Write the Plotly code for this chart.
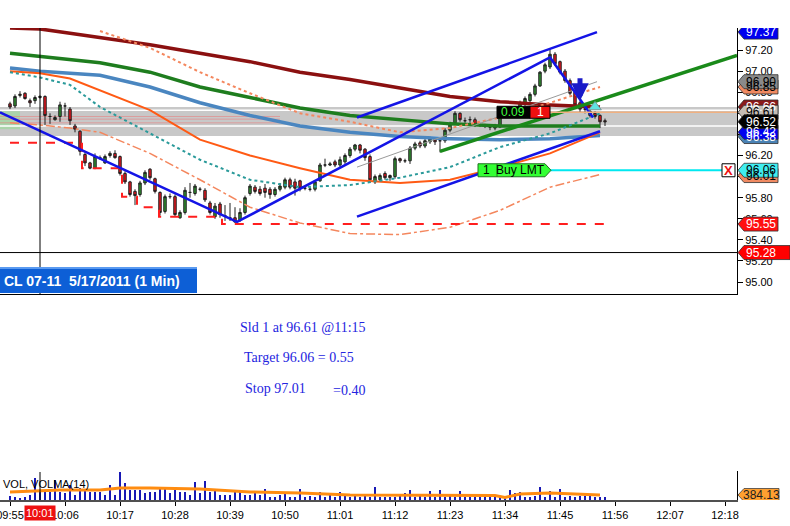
import pandas as pd
import plotly.graph_objects as go

W, H = 790, 526


def px(x):
    return x / W


def py(y):
    return 1 - y / H


# ---- data (CL 07-11, 1 min bars from 09:55) ----
bar_start = "2011-05-17 09:55"
opens = [96.69, 96.67, 96.77, 96.79, 96.72, 96.72, 96.75, 96.76, 96.57, 96.54,
         96.57, 96.67, 96.64, 96.48, 96.43, 96.21, 96.13, 96.08, 96.18, 96.13,
         96.20, 96.22, 96.19, 96.03, 95.95, 95.86, 95.83, 95.94, 96.07, 95.98,
         95.85, 95.67, 95.81, 95.81, 95.61, 95.66, 95.85, 95.84, 95.88, 95.87,
         95.75, 95.62, 95.74, 95.63, 95.61, 95.61, 95.59, 95.66, 95.84, 95.90,
         95.88, 95.89, 95.88, 95.83, 95.88, 95.90, 95.97, 95.95, 95.96, 95.89,
         95.88, 95.88, 95.96, 96.11, 96.11, 96.14, 96.11, 96.14, 96.20, 96.26,
         96.30, 96.26, 96.19, 95.95, 95.97, 96.03, 95.99, 96.00, 96.17, 96.15,
         96.15, 96.27, 96.32, 96.29, 96.33, 96.36, 96.34, 96.34, 96.44, 96.51,
         96.60, 96.53, 96.54, 96.54, 96.49, 96.49, 96.47, 96.46, 96.47, 96.62,
         96.64, 96.61, 96.65, 96.69, 96.72, 96.78, 96.86, 97.00, 97.04, 97.16,
         97.09, 97.00, 96.91, 96.80, 96.70, 96.64, 96.58, 96.60, 96.58, 96.53]
highs = [96.71, 96.78, 96.81, 96.80, 96.74, 96.77, 96.77, 96.77, 96.60, 96.58,
         96.71, 96.70, 96.66, 96.50, 96.44, 96.23, 96.14, 96.22, 96.20, 96.21,
         96.24, 96.25, 96.20, 96.05, 95.96, 95.88, 95.96, 96.06, 96.08, 95.99,
         95.86, 95.83, 95.84, 95.83, 95.68, 95.90, 95.94, 95.93, 95.90, 95.89,
         95.77, 95.75, 95.76, 95.73, 95.75, 95.71, 95.70, 95.82, 95.93, 95.92,
         95.91, 95.93, 95.90, 95.90, 95.94, 95.99, 95.99, 95.98, 95.97, 95.91,
         95.90, 95.96, 96.13, 96.17, 96.14, 96.16, 96.19, 96.22, 96.28, 96.31,
         96.31, 96.27, 96.21, 96.02, 96.03, 96.05, 96.02, 96.19, 96.18, 96.17,
         96.29, 96.33, 96.34, 96.36, 96.38, 96.37, 96.36, 96.46, 96.52, 96.62,
         96.61, 96.56, 96.57, 96.56, 96.51, 96.50, 96.49, 96.50, 96.64, 96.66,
         96.66, 96.67, 96.72, 96.76, 96.80, 96.88, 97.00, 97.08, 97.21, 97.18,
         97.10, 97.02, 96.93, 96.82, 96.72, 96.66, 96.64, 96.62, 96.59, 96.55]
lows = [96.64, 96.65, 96.75, 96.73, 96.66, 96.69, 96.74, 96.49, 96.50, 96.53,
        96.52, 96.57, 96.49, 96.42, 96.20, 96.10, 96.07, 96.07, 96.16, 96.12,
        96.18, 96.17, 96.01, 95.93, 95.81, 95.73, 95.81, 95.92, 95.97, 95.84,
        95.63, 95.65, 95.79, 95.62, 95.60, 95.64, 95.80, 95.82, 95.86, 95.76,
        95.64, 95.60, 95.61, 95.58, 95.58, 95.56, 95.57, 95.64, 95.82, 95.84,
        95.82, 95.80, 95.79, 95.81, 95.86, 95.88, 95.88, 95.82, 95.86, 95.87,
        95.86, 95.86, 95.95, 96.09, 96.10, 96.09, 96.09, 96.12, 96.18, 96.24,
        96.22, 96.15, 95.94, 95.93, 95.95, 95.97, 95.96, 95.98, 96.13, 96.13,
        96.12, 96.25, 96.27, 96.27, 96.31, 96.30, 96.23, 96.32, 96.42, 96.49,
        96.52, 96.51, 96.51, 96.47, 96.47, 96.46, 96.44, 96.44, 96.46, 96.60,
        96.59, 96.59, 96.63, 96.67, 96.70, 96.76, 96.85, 96.98, 97.02, 97.05,
        96.97, 96.89, 96.77, 96.66, 96.61, 96.60, 96.56, 96.55, 96.46, 96.48]
closes = [96.66, 96.76, 96.78, 96.74, 96.70, 96.75, 96.76, 96.58, 96.57, 96.56,
          96.68, 96.67, 96.53, 96.45, 96.24, 96.13, 96.08, 96.19, 96.18, 96.19,
          96.22, 96.18, 96.03, 95.95, 95.83, 95.82, 95.94, 96.04, 95.99, 95.86,
          95.66, 95.81, 95.81, 95.64, 95.66, 95.87, 95.85, 95.91, 95.88, 95.78,
          95.66, 95.72, 95.64, 95.63, 95.61, 95.57, 95.66, 95.80, 95.91, 95.86,
          95.84, 95.85, 95.83, 95.88, 95.91, 95.97, 95.90, 95.89, 95.89, 95.89,
          95.88, 95.95, 96.11, 96.11, 96.12, 96.11, 96.16, 96.20, 96.26, 96.30,
          96.25, 96.18, 95.97, 96.00, 96.01, 95.99, 96.01, 96.17, 96.15, 96.15,
          96.27, 96.31, 96.29, 96.34, 96.36, 96.33, 96.34, 96.44, 96.50, 96.60,
          96.54, 96.53, 96.54, 96.49, 96.49, 96.49, 96.47, 96.48, 96.62, 96.64,
          96.61, 96.65, 96.70, 96.74, 96.78, 96.86, 96.99, 97.06, 97.16, 97.07,
          96.99, 96.91, 96.79, 96.68, 96.64, 96.64, 96.62, 96.57, 96.52, 96.52]
volumes = [310, 230, 150, 230, 385, 1695, 690, 770, 615, 1540,
           615, 540, 1155, 385, 925, 770, 615, 615, 615, 385,
           1155, 385, 2155, 1310, 770, 770, 770, 540, 615, 615,
           1000, 1000, 540, 925, 615, 615, 385, 1385, 540, 1465,
           615, 770, 385, 385, 385, 615, 615, 385, 385, 540,
           385, 845, 230, 230, 385, 615, 230, 230, 845, 230,
           310, 230, 615, 230, 540, 230, 615, 310, 230, 310,
           230, 310, 230, 1000, 230, 230, 230, 230, 310, 540,
           770, 230, 310, 230, 690, 230, 770, 230, 310, 230,
           690, 230, 230, 230, 230, 230, 230, 230, 230, 230,
           770, 540, 615, 230, 230, 310, 1000, 230, 690, 230,
           845, 230, 310, 230, 310, 310, 310, 230, 230, 230]

volma_times = ["09:55", "10:05", "10:13", "10:17", "10:23", "10:33", "10:43", "10:53",
               "11:03", "11:13", "11:23", "11:32", "11:34", "11:37", "11:43", "11:53"]
volma = [615, 770, 770, 925, 925, 845, 615, 540, 385, 385, 385, 350, 200, 460, 540, 384.13]

# moving averages / bands sampled along the chart
ma_times = ["09:55", "10:01", "10:07", "10:13", "10:23", "10:33", "10:43",
            "10:53", "11:03", "11:13", "11:23", "11:33", "11:43", "11:53"]
ma_maroon = [97.41, 97.40, 97.36, 97.32, 97.25, 97.17, 97.09, 96.99, 96.92, 96.84, 96.76, 96.71, 96.68, 96.66]
ma_green = [97.17, 97.14, 97.11, 97.08, 96.99, 96.85, 96.75, 96.65, 96.58, 96.54, 96.50, 96.48, 96.48, 96.48]
ma_steel = [97.03, 97.00, 96.98, 96.96, 96.85, 96.70, 96.58, 96.48, 96.42, 96.38, 96.36, 96.35, 96.36, 96.39]
ma_orange = [97.00, 96.98, 96.93, 96.82, 96.63, 96.35, 96.20, 96.08, 95.97, 95.94, 95.97, 96.09, 96.22, 96.42]
ma_teal = [96.99, 96.94, 96.87, 96.66, 96.41, 96.16, 95.97, 95.90, 95.92, 95.99, 96.09, 96.28, 96.41, 96.60]
band_upper = [None, None, None, 97.38, 97.22, 96.99, 96.79, 96.60, 96.52, 96.42, 96.46, 96.56, 96.70, 96.85]
band_lower = [96.51, 96.49, 96.46, 96.42, 96.22, 95.97, 95.71, 95.56, 95.46, 95.45, 95.52, 95.68, 95.90, 96.02]

# drawn trend lines
zigzag_times = ["09:53:00", "10:40:24", "11:43:00", "11:51:36"]
zigzag_prices = [96.61, 95.57, 97.13, 96.56]
chan_up_times = ["11:04:24", "11:52:24"]
chan_up_prices = [96.56, 97.37]
chan_lo_times = ["11:04:24", "11:53:00"]
chan_lo_prices = [95.62, 96.43]
green_tl_times = ["11:21:00", "12:20:24"]
green_tl_prices = [96.24, 97.15]
reg_times = ["11:04:24", "11:52:24"]
reg_prices = [96.09, 96.90]
stop_times = ["09:55:00", "10:09:24", "10:17:24", "10:20:24", "10:24:48", "10:37:24", "11:55:00"]
stop_prices = [96.32, 96.08, 95.81, 95.71, 95.62, 95.55, 95.55]

price_ticks = [95.00, 95.20, 95.40, 95.60, 95.80, 96.00, 96.20, 96.40, 96.60, 96.80, 97.00, 97.20]
time_ticks = ["09:55", "10:06", "10:17", "10:28", "10:39", "10:50", "11:01",
              "11:12", "11:23", "11:34", "11:45", "11:56", "12:07", "12:18"]

# price tags on the right scale: value, fill, text colour
tag_prices = [97.37, 96.85, 96.90, 96.66, 96.61, 96.38, 96.42, 96.52, 96.01, 96.06, 95.55, 95.28]
tag_fills = ["#0000f0", "#f08a62", "#8a8a8a", "#8b1a1a", "#c4bcb4", "#4a82b4",
             "#0000f0", "#000000", "#f08a62", "#40eef0", "#ff1010", "#ff0000"]
tag_fonts = ["white", "black", "black", "white", "black", "white",
             "white", "white", "black", "black", "white", "white"]

entry_price, target_price, cross_price = 96.61, 96.06, 95.28
cross_time = "10:01"

day = "2011-05-17 "
times = pd.date_range(bar_start, periods=len(opens), freq="1min")
x_range = [day + "09:53:00", day + "12:20:24"]
P_LO, P_HI = 94.887, 97.409
dp = (P_HI - P_LO) / (294 - 28)
V_HI = 2230
dv = V_HI / (500 - 471)


def d(ts):
    return [day + t for t in ts]


def note(x, y, text, xref="paper", yref="paper", **kw):
    a = dict(xref=xref, yref=yref, x=x, y=y, text=text, showarrow=False,
             xanchor="center", yanchor="middle")
    a.update(kw)
    return a


fig = go.Figure()

# shaded zone
shapes = [
    dict(type="rect", xref="paper", yref="y", x0=0, x1=px(737), y0=96.385, y1=96.66,
         fillcolor="#c8c8c8", line=dict(width=0), layer="below"),
    dict(type="rect", xref="paper", yref="y", x0=0, x1=px(20), y0=96.45, y1=96.62,
         fillcolor="rgba(150,220,150,0.6)", line=dict(width=0), layer="below"),
]
for lvl in [96.63, 96.48]:
    shapes.append(dict(type="line", xref="paper", yref="y", x0=0, x1=px(737), y0=lvl, y1=lvl,
                       line=dict(color="white", width=1.5), layer="below"))
for lvl in [96.57, 96.545, 96.51]:
    shapes.append(dict(type="line", xref="paper", yref="y", x0=0, x1=px(280), y0=lvl, y1=lvl,
                       line=dict(color="rgba(235,120,120,0.55)", width=1), layer="below"))

fig.add_trace(go.Scatter(x=d(ma_times), y=ma_maroon, mode="lines", line=dict(color="#8b1010", width=3.5)))
fig.add_trace(go.Scatter(x=d(ma_times), y=ma_green, mode="lines", line=dict(color="#1e7d1e", width=3.5)))
fig.add_trace(go.Scatter(x=d(ma_times), y=ma_steel, mode="lines", line=dict(color="#4a86c0", width=3.5)))
fig.add_trace(go.Scatter(x=d(ma_times), y=ma_orange, mode="lines", line=dict(color="#ff5a14", width=2)))
fig.add_trace(go.Scatter(x=d(ma_times), y=ma_teal, mode="lines", line=dict(color="#2a9a9a", width=2, dash="dot")))
fig.add_trace(go.Scatter(x=d(ma_times), y=band_upper, mode="lines", line=dict(color="#f4875e", width=2, dash="dot")))
fig.add_trace(go.Scatter(x=d(ma_times), y=band_lower, mode="lines", line=dict(color="#f4875e", width=1.5, dash="dashdot")))

fig.add_trace(go.Scatter(x=d(stop_times), y=stop_prices, mode="lines", line_shape="hv",
                         line=dict(color="#ff1e1e", width=2, dash="dash")))

fig.add_trace(go.Candlestick(
    x=times, open=opens, high=highs, low=lows, close=closes,
    increasing=dict(line=dict(color="#202020", width=1), fillcolor="#2f8f2f"),
    decreasing=dict(line=dict(color="#202020", width=1), fillcolor="#e8141c"),
    whiskerwidth=0))

fig.add_trace(go.Scatter(x=d(reg_times), y=reg_prices, mode="lines", line=dict(color="#9a9a9a", width=1)))
fig.add_trace(go.Scatter(x=d(zigzag_times), y=zigzag_prices, mode="lines", line=dict(color="#1414e6", width=2.5)))
fig.add_trace(go.Scatter(x=d(chan_up_times), y=chan_up_prices, mode="lines", line=dict(color="#1414e6", width=2.5)))
fig.add_trace(go.Scatter(x=d(chan_lo_times), y=chan_lo_prices, mode="lines", line=dict(color="#1414e6", width=2.5)))
fig.add_trace(go.Scatter(x=d(green_tl_times), y=green_tl_prices, mode="lines", line=dict(color="#1a8a1a", width=3.5)))

# execution marker
fig.add_trace(go.Scatter(x=[day + "11:52"], y=[96.66], mode="markers",
                         marker=dict(symbol="triangle-up", size=11, color="#5fe3e3",
                                     line=dict(color="#7a9a9a", width=1))))

# volume
fig.add_trace(go.Bar(x=times, y=volumes, xaxis="x2", yaxis="y2", marker=dict(color="#1818b4", line=dict(width=0)),
                     width=24000))
fig.add_trace(go.Scatter(x=d(volma_times), y=volma, xaxis="x2", yaxis="y2", mode="lines",
                         line=dict(color="#ff8c10", width=3)))

# horizontal level lines
shapes += [
    dict(type="line", xref="paper", yref="y", x0=px(550), x1=px(737), y0=entry_price, y1=entry_price,
         line=dict(color="#f0b080", width=1.5)),
    dict(type="line", xref="paper", yref="y", x0=px(550), x1=px(722), y0=target_price, y1=target_price,
         line=dict(color="#00e8f0", width=2)),
    dict(type="line", xref="paper", yref="y", x0=0, x1=px(737), y0=cross_price, y1=cross_price,
         line=dict(color="black", width=1)),
    dict(type="line", xref="x", yref="paper", x0=day + cross_time, x1=day + cross_time, y0=py(294), y1=py(28),
         line=dict(color="black", width=1)),
    dict(type="line", xref="x", yref="paper", x0=day + cross_time, x1=day + cross_time, y0=py(500), y1=py(472),
         line=dict(color="black", width=1)),
]

annotations = []

# right scale tags
for p, fc, tc in zip(tag_prices, tag_fills, tag_fonts):
    h = 7 * dp
    x1 = 790 if p == cross_price else 778
    path = (f"M {px(738)},{p} L {px(744)},{p + h} L {px(x1)},{p + h} "
            f"L {px(x1)},{p - h} L {px(744)},{p - h} Z")
    shapes.append(dict(type="path", xref="paper", yref="y", path=path, fillcolor=fc,
                       line=dict(color="#303030", width=0.8)))
    annotations.append(note(px(761), p, f"{p:.2f}", yref="y",
                            font=dict(family="Liberation Sans", size=12, color=tc)))

# volume MA tag
vm = volma[-1]
hv = 6.5 * dv
path = (f"M {px(738)},{vm} L {px(744)},{vm + hv} L {px(779)},{vm + hv} "
        f"L {px(779)},{vm - hv} L {px(744)},{vm - hv} Z")
shapes.append(dict(type="path", xref="paper", yref="y2", path=path, fillcolor="#ffa030",
                   line=dict(color="#404040", width=0.8)))
annotations.append(note(px(761), vm, f"{vm:.2f}", yref="y2",
                        font=dict(family="Liberation Sans", size=12, color="#202020")))

# P&L box on the entry
h6 = 6 * dp
shapes += [
    dict(type="rect", xref="paper", yref="y", x0=px(497), x1=px(530), y0=entry_price - h6, y1=entry_price + h6,
         fillcolor="black", line=dict(color="black", width=1)),
    dict(type="rect", xref="paper", yref="y", x0=px(530), x1=px(550), y0=entry_price - h6, y1=entry_price + h6,
         fillcolor="#ee1010", line=dict(color="black", width=1)),
]
annotations += [
    note(px(513), entry_price, "0.09", yref="y", font=dict(family="Liberation Sans", size=12, color="#40ff40")),
    note(px(540), entry_price, "1", yref="y", font=dict(family="Liberation Sans", size=12, color="white")),
]

# working buy limit order tag
h7 = 6.5 * dp
tp = target_price
shapes += [
    dict(type="path", xref="paper", yref="y",
         path=(f"M {px(478)},{tp - h7} L {px(545)},{tp - h7} L {px(551)},{tp} "
               f"L {px(545)},{tp + h7} L {px(478)},{tp + h7} Z"),
         fillcolor="#33ff33", line=dict(color="#207020", width=1)),
    dict(type="line", xref="paper", yref="y", x0=px(497), x1=px(497), y0=tp - h7, y1=tp + h7,
         line=dict(color="#207020", width=1)),
    dict(type="rect", xref="paper", yref="y", x0=px(722), x1=px(735), y0=tp - h7, y1=tp + h7,
         fillcolor="white", line=dict(color="black", width=1)),
]
annotations += [
    note(px(487), tp, "1", yref="y", font=dict(family="Liberation Sans", size=12, color="black")),
    note(px(520), tp, "Buy LMT", yref="y", font=dict(family="Liberation Sans", size=12, color="black")),
    note(px(728.5), tp, "<b>X</b>", yref="y", font=dict(family="Liberation Sans", size=13, color="#ee1010")),
]

# sell arrow
annotations.append(dict(xref="x", yref="y", x=day + "11:49", y=96.72, ax=0, ay=-24,
                        showarrow=True, arrowhead=2, arrowsize=0.7, arrowwidth=5, arrowcolor="#1a1ac8", text=""))

# title bar
shapes.append(dict(type="rect", xref="paper", yref="paper", x0=0, x1=px(197), y0=py(293), y1=py(267),
                   fillcolor="#0d5fd6", line=dict(width=0)))
shapes.append(dict(type="line", xref="paper", yref="paper", x0=0, x1=px(197), y0=py(268), y1=py(268),
                   line=dict(color="#5a9af0", width=2)))
annotations.append(note(px(2), py(281), "<b>CL 07-11\u00a0 5/17/2011 (1 Min)</b>", xanchor="left",
                        font=dict(family="Liberation Sans", size=14, color="white")))

# trade notes
note_font = dict(family="Liberation Serif", size=14, color="#2424e0")
for tx, x, y in [("Sld 1 at 96.61 @11:15", 238, 327), ("Target 96.06 = 0.55", 242, 357),
                 ("Stop 97.01", 243, 388), ("=0.40", 331, 390)]:
    annotations.append(note(px(x), py(y), tx, xanchor="left", font=note_font))

annotations.append(note(px(1), py(484), "VOL, VOLMA(14)", xanchor="left",
                        font=dict(family="Liberation Sans", size=11, color="black")))
annotations.append(note(day + cross_time, py(513), "10:01", xref="x2", bgcolor="#ee1010", borderpad=1,
                        font=dict(family="Liberation Sans", size=11, color="white")))

tick_font = dict(family="Liberation Sans", size=11, color="black")
fig.update_layout(
    width=W, height=H, margin=dict(l=0, r=0, t=0, b=0),
    paper_bgcolor="white", plot_bgcolor="white", showlegend=False,
    xaxis=dict(domain=[0, px(737)], range=x_range, type="date", showgrid=False, showticklabels=False,
               rangeslider=dict(visible=False), showline=True, linecolor="black", linewidth=1,
               zeroline=False, ticks=""),
    yaxis=dict(domain=[py(294), py(28)], range=[P_LO, P_HI], side="right", showgrid=False,
               tickvals=price_ticks, ticktext=[f"{v:.2f}" for v in price_ticks], ticks="outside",
               ticklen=5, tickcolor="black", showline=True, linecolor="black", linewidth=1,
               tickfont=tick_font, zeroline=False, automargin=False),
    xaxis2=dict(domain=[0, px(737)], range=x_range, type="date", anchor="y2", showgrid=False,
                tickvals=d(time_ticks), ticktext=time_ticks, ticks="outside", ticklen=4,
                tickcolor="black", showline=True, linecolor="#505050", linewidth=1.5,
                tickfont=tick_font, zeroline=False, automargin=False, ticklabeloverflow="allow"),
    yaxis2=dict(domain=[py(500), py(471)], range=[0, V_HI], side="right", anchor="x2", showgrid=False,
                showticklabels=False, ticks="", showline=True, linecolor="black", zeroline=False,
                automargin=False),
    shapes=shapes, annotations=annotations, bargap=0,
)

fig.write_html("out.html", config={"displayModeBar": False},
               post_script="document.body.style.margin='0px';")
